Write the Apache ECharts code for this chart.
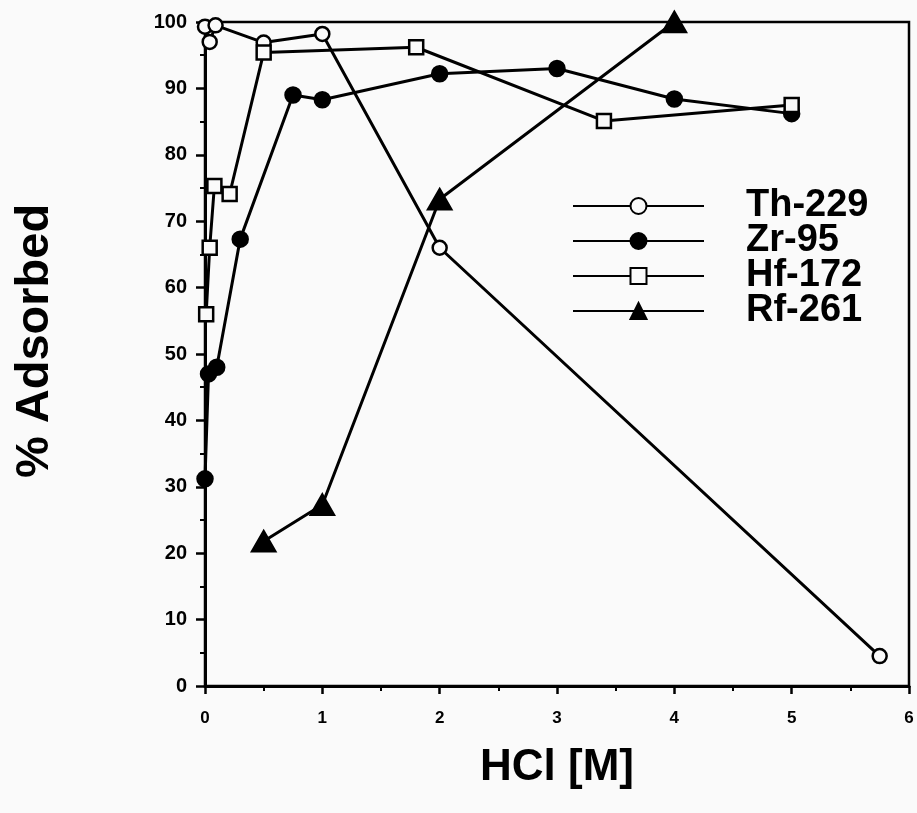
<!DOCTYPE html>
<html>
<head>
<meta charset="utf-8">
<script src="https://cdn.jsdelivr.net/npm/echarts@6/dist/echarts.min.js"></script>
<style>
  html, body { margin: 0; padding: 0; background: #fafafa; }
  #chart { width: 917px; height: 813px; }
</style>
</head>
<body>
<div id="chart"></div>
<script>
// HCl concentration [M] and % adsorbed for each nuclide
const thX = [0, 0.04, 0.09, 0.5, 1, 2, 5.75];
const thY = [99.3, 97, 99.5, 96.9, 98.2, 66, 4.5];

const zrX = [0, 0.03, 0.1, 0.3, 0.75, 1, 2, 3, 4, 5];
const zrY = [31.2, 47, 48, 67.3, 89, 88.3, 92.2, 93, 88.4, 86.2];

const hfX = [0.01, 0.04, 0.08, 0.21, 0.5, 1.8, 3.4, 5];
const hfY = [56, 66, 75.3, 74.1, 95.4, 96.2, 85.1, 87.5];

const rfX = [0.5, 1, 2, 4];
const rfY = [21.8, 27.3, 73.3, 100];

const xTicks = { min: 0, max: 6, step: 1 };
const yTicks = { min: 0, max: 100, step: 10 };

const FONT = '"Liberation Sans", Arial, Helvetica, sans-serif';
const BG = '#fafafa';
const INK = '#000';

function pairs(xs, ys) {
  return xs.map((x, i) => [x, ys[i]]);
}

function lineSeries(name, xs, ys, symbol, size, filled) {
  return {
    name: name,
    type: 'line',
    data: pairs(xs, ys),
    symbol: symbol,
    symbolSize: size,
    showAllSymbol: true,
    clip: false,
    lineStyle: { color: INK, width: 3 },
    itemStyle: { color: filled ? INK : BG, borderColor: INK, borderWidth: 2.5, opacity: 1 },
    emphasis: { disabled: true },
    animation: false
  };
}

const chart = echarts.init(document.getElementById('chart'), null, { renderer: 'canvas' });

chart.setOption({
  backgroundColor: BG,
  animation: false,
  grid: {
    left: 205, right: 8, top: 22, bottom: 127,
    show: true, borderColor: INK, borderWidth: 2.5, backgroundColor: 'transparent'
  },
  legend: {
    orient: 'vertical',
    left: 572, top: 187,
    padding: 0,
    itemWidth: 131, itemHeight: 20, itemGap: -3,
    data: ['Th-229', 'Zr-95', 'Hf-172', 'Rf-261'],
    textStyle: {
      fontFamily: FONT, fontWeight: 'bold', fontSize: 38, color: INK,
      lineHeight: 35, padding: [0, 0, 0, 37]
    },
    selectedMode: false
  },
  xAxis: {
    type: 'value',
    min: xTicks.min, max: xTicks.max, interval: xTicks.step,
    name: 'HCl [M]',
    nameLocation: 'middle',
    nameGap: 60,
    nameTextStyle: { fontFamily: FONT, fontWeight: 'bold', fontSize: 44, color: INK },
    axisLine: { show: true, onZero: false, lineStyle: { color: INK, width: 3 } },
    axisTick: { show: true, inside: false, length: 8, lineStyle: { color: INK, width: 2.5 } },
    minorTick: { show: true, splitNumber: 2, length: 5, lineStyle: { color: INK, width: 2 } },
    axisLabel: { fontFamily: FONT, fontWeight: 'bold', fontSize: 17, color: INK, margin: 24 },
    splitLine: { show: false },
    minorSplitLine: { show: false }
  },
  yAxis: {
    type: 'value',
    min: yTicks.min, max: yTicks.max, interval: yTicks.step,
    name: '% Adsorbed',
    nameLocation: 'middle',
    nameGap: 146,
    nameTextStyle: {
      fontFamily: FONT, fontWeight: 'bold', fontSize: 47, color: INK,
      padding: [0, 0, 0, 26]
    },
    axisLine: { show: true, onZero: false, lineStyle: { color: INK, width: 3 } },
    axisTick: { show: true, inside: false, length: 9, lineStyle: { color: INK, width: 2.5 } },
    minorTick: { show: true, splitNumber: 2, length: 5, lineStyle: { color: INK, width: 2 } },
    axisLabel: { fontFamily: FONT, fontWeight: 'bold', fontSize: 20, color: INK, margin: 18 },
    splitLine: { show: false },
    minorSplitLine: { show: false }
  },
  series: [
    lineSeries('Th-229', thX, thY, 'circle', 14, false),
    lineSeries('Zr-95', zrX, zrY, 'circle', 15, true),
    lineSeries('Hf-172', hfX, hfY, 'rect', 14, false),
    lineSeries('Rf-261', rfX, rfY, 'triangle', [23, 20], true)
  ]
});
</script>
</body>
</html>
